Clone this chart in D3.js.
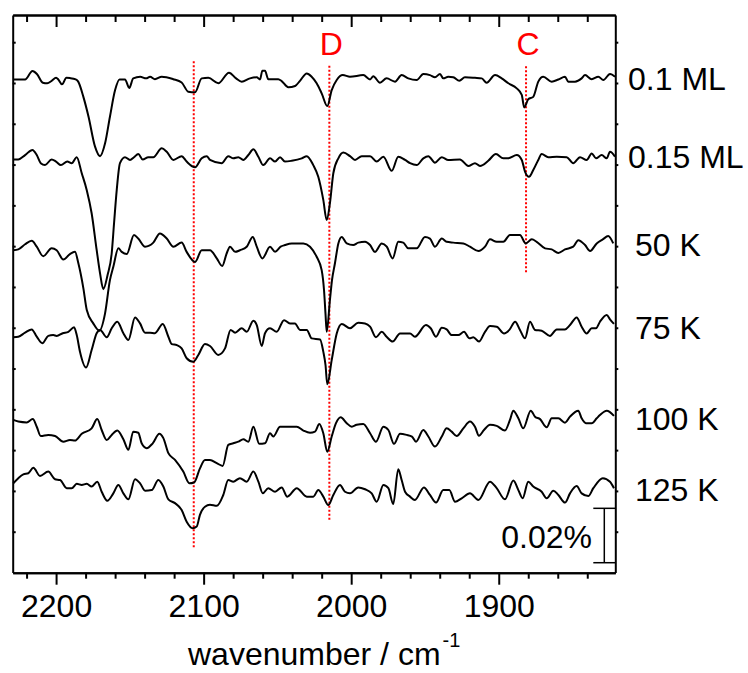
<!DOCTYPE html>
<html>
<head>
<meta charset="utf-8">
<script src="https://cdn.jsdelivr.net/npm/d3@7"></script>
<style>
  body { margin: 0; background: #fff; }
  svg { display: block; font-family: "Liberation Sans", Arial, sans-serif; }
</style>
</head>
<body>
<div id="chart"></div>
<script>
// spectra: [wavenumber (cm-1), signal relative to the trace baseline (units of 0.01 %)]
var spec01ML = [[2229,-0.04],[2221,-0.04],[2216,0.27],[2213,0.16],[2209,-0.16],[2206,-0.18],[2203,-0.09],[2200,0.02],[2198.5,-0.04],[2196,-0.22],[2193,0.02],[2190.6,0.01],[2186.7,-0.04],[2185,-0.12],[2181.5,-0.68],[2178,-1.41],[2173.6,-2.51],[2170.2,-2.86],[2166.8,-2.39],[2163.5,-1.41],[2160,-0.43],[2157,-0.04],[2153.3,-0.04],[2150.4,-0.35],[2147.7,0],[2143,0.06],[2139,0],[2136.3,0.06],[2133,-0.03],[2128.4,0.06],[2120.6,-0.03],[2114.9,-0.15],[2110.4,-0.49],[2105.8,-0.51],[2101.3,0],[2096.8,0.02],[2090.1,-0.18],[2082.8,0.21],[2078,0],[2074.2,-0.12],[2068.6,0],[2064,0.04],[2061.8,-0.04],[2060.2,0.28],[2058.4,0.28],[2056.2,-0.03],[2049.4,-0.03],[2047.1,-0.1],[2042.6,-0.33],[2038,-0.28],[2034.7,-0.09],[2030.1,0.18],[2026.8,0.06],[2023.4,-0.18],[2020,-0.55],[2016.2,-1.02],[2013.2,-0.43],[2009.8,-0.06],[2005.7,0.12],[2000.8,0.06],[1991.8,0.12],[1987.2,-0.04],[1985,0.08],[1980.5,-0.16],[1976,0],[1970.3,-0.12],[1965.8,0.12],[1961.3,0],[1955.6,-0.06],[1951.1,0.16],[1946.6,0.12],[1943.2,0.04],[1939.8,0.16],[1937.6,0],[1934.2,0.06],[1930.8,0.04],[1926.7,-0.09],[1922.9,0.04],[1916.1,0.02],[1911.5,0],[1908.2,-0.16],[1902.5,0.12],[1898,0],[1893.5,-0.18],[1887.8,-0.37],[1884.4,-0.61],[1882.7,-1.07],[1880,-0.77],[1876.6,-0.68],[1873.2,-0.12],[1869.8,0.06],[1864.1,-0.12],[1859.6,-0.04],[1855.1,0.06],[1852.9,-0.12],[1848.3,-0.12],[1843.8,0],[1841.5,0.12],[1837,-0.03],[1832.5,0.06],[1829.1,-0.06],[1824.6,0.16],[1821.2,0.06]];

var spec015ML = [[2229,-0.04],[2225.6,-0.04],[2221,0.12],[2216,0.31],[2213.1,0.12],[2210.4,-0.18],[2207.5,-0.25],[2203,-0.04],[2200,-0.12],[2196.7,-0.25],[2192.4,-0.12],[2189.4,-0.18],[2186,0.04],[2182.6,-0.55],[2179.2,-1.17],[2175.9,-2.02],[2172.5,-3.37],[2170.2,-4.23],[2168,-4.81],[2165.1,-4.29],[2162.3,-3.49],[2160.7,-2.38],[2158.9,-1.17],[2156.7,-0.18],[2153.3,0.04],[2149.9,-0.06],[2147.2,0.04],[2144.3,0.16],[2141.3,-0.04],[2137.5,0.04],[2134.1,0.04],[2128.4,0.37],[2125,0.24],[2120.5,-0.06],[2114.9,0.08],[2111.5,-0.12],[2105.8,-0.33],[2101.3,0],[2097.9,0.08],[2095.7,-0.06],[2087.8,-0.18],[2083.3,0.08],[2079.9,0],[2076.5,0.04],[2073.1,-0.06],[2069.7,0.12],[2066.3,0.33],[2062.9,0.06],[2059.6,-0.25],[2055,0],[2051.6,-0.12],[2048.2,0.04],[2044.9,-0.12],[2040.3,-0.09],[2033.5,0],[2030.1,0.08],[2025.7,-0.25],[2022.3,-0.68],[2018.9,-1.53],[2016.6,-2.27],[2014.4,-1.65],[2012.1,-0.55],[2008.7,0],[2005.3,0.21],[2000.8,0.08],[1997.4,-0.06],[1992.9,0.08],[1987.2,0.08],[1982.7,-0.12],[1978.2,0.06],[1972.5,-0.46],[1968.1,0.06],[1963.5,-0.06],[1960.1,-0.18],[1955.6,-0.25],[1951.1,0],[1947.7,0.08],[1943.2,-0.16],[1938.6,0.04],[1934.2,-0.06],[1926.3,-0.04],[1920.6,-0.28],[1916.1,-0.18],[1912.7,-0.28],[1907.1,-0.09],[1901.9,0.16],[1896.9,0],[1893.5,0],[1887.8,0.12],[1884.4,-0.06],[1882.2,-0.49],[1879.5,-0.68],[1876.6,-0.43],[1873.2,-0.06],[1870.9,0.16],[1866.4,0.04],[1860.7,0.06],[1853.9,0.04],[1849.5,-0.18],[1844.9,0.04],[1840.4,-0.06],[1837,0.18],[1834.1,0],[1830.2,0.12],[1826.8,0],[1824.6,0.24],[1821.2,0.06]];

var spec50K = [[2229,-0.03],[2225.6,0],[2221,0.19],[2216.5,0.32],[2213.1,0.10],[2208.7,-0.25],[2203,0.04],[2199.6,-0.03],[2195.1,-0.37],[2190.6,-0.17],[2187.2,-0.09],[2184.9,-0.51],[2181.5,-1.43],[2179.2,-2.23],[2174.8,-2.72],[2170.7,-2.99],[2166.8,-2.35],[2163.5,-1.13],[2161.2,-0.64],[2157.8,0.04],[2155.5,-0.09],[2152.1,-0.17],[2147.2,0.53],[2144.3,0.40],[2139.7,0.10],[2134.1,0.25],[2129.6,0.59],[2125,0.40],[2120.5,0.10],[2114.9,0.25],[2111.5,-0.09],[2105.8,-0.46],[2101.3,-0.03],[2095.7,-0.03],[2091.1,-0.33],[2087.4,-0.61],[2084.4,-0.15],[2082.1,0.10],[2078.7,-0.09],[2075.4,-0.03],[2070.8,0.10],[2066.7,0.46],[2064,0.10],[2060.2,-0.33],[2055,0.10],[2051.6,-0.09],[2047.8,0.10],[2044.9,0.16],[2040.3,0.22],[2032.4,0.22],[2027.9,0.10],[2023.4,-0.27],[2020,-0.76],[2018.4,-1.50],[2017.4,-2.37],[2016.6,-3.03],[2014.4,-1.86],[2013,-1.13],[2011,-0.51],[2008.7,0.22],[2006.4,0.46],[2003,0.22],[1998.6,0.16],[1995.2,0.25],[1990.6,0.28],[1987.2,0.16],[1983.9,-0.09],[1979.3,0.22],[1975.9,0.10],[1971.9,-0.33],[1968.1,0.28],[1964.7,0.25],[1961.3,0.04],[1955.6,0.04],[1950,0.46],[1946.6,0.40],[1943.2,0.10],[1938.6,0.40],[1935.3,0.28],[1930.8,0.25],[1924,0.22],[1919.5,0.10],[1913.8,-0.06],[1909.3,0.10],[1905.9,0.37],[1901.4,0.28],[1896.9,0.28],[1892.4,0.53],[1885.6,0.53],[1881.7,0.22],[1877.6,0.37],[1874.3,0.28],[1868.6,0.04],[1864.1,0],[1859.6,-0.13],[1855.1,0],[1849.5,0.10],[1846.1,0.34],[1841.5,0.16],[1838.1,-0.06],[1833.6,0.22],[1829.5,0.37],[1825.8,0.49],[1822.4,0.22]];

var spec75K = [[2229,-0.02],[2225.6,0],[2221,0.15],[2216.5,0.27],[2213.1,0],[2209.3,-0.24],[2205.3,0.03],[2201.9,0.06],[2199.6,0.03],[2195.5,0.13],[2191.7,0.18],[2187.8,0.35],[2186,0.06],[2183.8,-0.55],[2179.7,-1.13],[2175.9,-0.49],[2172.5,0.13],[2170.2,0.25],[2165.7,-0.02],[2162.3,0.31],[2158.5,0.55],[2154.4,0.13],[2151,-0.12],[2146.5,0.71],[2143.1,0.49],[2139.7,0.15],[2136.3,0.15],[2133,0.13],[2127.7,0.47],[2123.9,0],[2121.6,-0.27],[2118.2,-0.31],[2114.9,-0.43],[2111.5,-0.79],[2107,-0.92],[2103.6,-0.67],[2099.1,-0.27],[2095.7,-0.34],[2090.1,-0.67],[2085.5,-0.43],[2081.7,0.25],[2078.7,0.15],[2074.2,0.31],[2070.8,0.18],[2066.3,0.59],[2064,0.43],[2060.6,-0.34],[2058.4,0.13],[2055,0.31],[2050.5,0.18],[2045.5,0.61],[2041.5,0.49],[2038.1,0.49],[2034.7,0.25],[2030.1,0.25],[2026.8,-0.06],[2021.1,-0.10],[2018.9,-0.55],[2017.4,-1.04],[2016.2,-1.75],[2013.2,-0.86],[2009.8,0.12],[2006.4,0.47],[2000.8,0.31],[1995.2,0.51],[1990.6,0.49],[1987.2,0.37],[1983.2,-0.02],[1979.3,0.18],[1976,0],[1971.9,-0.18],[1966.9,0.12],[1960.1,0.12],[1956.8,0],[1949.3,0.43],[1946.1,0.31],[1942.5,0],[1938.6,0.33],[1935.3,0.27],[1931.9,0.06],[1927.4,0.06],[1923.5,0.18],[1919.9,-0.06],[1917.2,-0.02],[1913.4,-0.18],[1909.3,0.18],[1905.9,0.39],[1901.4,0.37],[1896.4,0.12],[1892.8,0.25],[1888.9,0.55],[1885.6,0.25],[1882.2,-0.06],[1878.8,0.55],[1875.4,0.25],[1870.9,0.22],[1865.3,0.03],[1860.7,0.27],[1855.1,0.27],[1851.7,0.43],[1847.2,0.71],[1843.8,0.37],[1840.4,0.12],[1837,0.31],[1834.1,0.31],[1831.4,0.55],[1826.8,0.80],[1824.6,0.64],[1821.9,0.47]];

var spec100K = [[2229,0],[2225.6,-0.06],[2219.9,-0.09],[2215.8,0.03],[2213.1,-0.25],[2210.4,-0.59],[2205.3,-0.55],[2200.7,-0.59],[2195.1,-0.80],[2190.6,-0.74],[2187.2,-0.76],[2182.6,-0.51],[2175.9,-0.31],[2172.1,0.03],[2169.1,-0.37],[2165.7,-0.74],[2162.3,-0.55],[2158.5,-0.39],[2154.4,-0.71],[2151,-1.10],[2147.7,-0.43],[2144.3,-0.47],[2142,-0.86],[2138.6,-1.04],[2134.5,-0.86],[2130,-0.51],[2127.3,-0.67],[2123.9,-1.22],[2119.4,-1.47],[2113.8,-1.90],[2109.7,-2.33],[2106.5,-2.30],[2102.5,-1.78],[2099.1,-1.47],[2095.7,-1.47],[2091.1,-1.59],[2087.1,-1.69],[2083.3,-0.92],[2079.9,-0.86],[2076.5,-0.80],[2073.1,-0.71],[2069.7,-0.80],[2066.3,-0.25],[2062.3,-0.88],[2058.4,-0.86],[2055,-0.49],[2052.8,-0.61],[2048.2,-0.25],[2044.9,-0.25],[2036.9,-0.25],[2032.4,-0.39],[2027.9,-0.47],[2024.5,-0.43],[2021.6,-0.15],[2018.9,-0.49],[2016.2,-1.17],[2013.2,-0.61],[2010.3,-0.12],[2007.1,0.10],[2003,-0.12],[1999.6,-0.25],[1996.3,-0.18],[1991.8,-0.15],[1987.2,-0.49],[1983.2,-0.80],[1978.2,-0.25],[1974.8,-0.37],[1971,-0.88],[1966.9,-0.51],[1962.4,-0.55],[1958.8,-0.61],[1956.1,-0.80],[1951.1,-0.37],[1947.7,-0.61],[1943.2,-0.98],[1938.6,-0.61],[1935.3,-0.31],[1931.9,-0.43],[1928.5,-0.59],[1924,-0.31],[1919.5,-0.06],[1916.1,-0.25],[1913.4,-0.58],[1910,-0.37],[1905.9,-0.18],[1901.4,-0.22],[1895.8,-0.39],[1892.4,0],[1890.1,0.34],[1886.7,0.06],[1883.4,-0.31],[1878.3,0.34],[1875.4,0.12],[1872,0.03],[1867.5,-0.27],[1864.1,0.06],[1859.6,0.06],[1855.1,-0.10],[1851.7,0.12],[1846.1,0.34],[1843.8,0.06],[1840.9,-0.12],[1837,-0.12],[1833.6,0.06],[1831.4,0.18],[1826.8,0.34],[1821.9,0.15]];

var spec125K = [[2229,-0.06],[2225.6,0.13],[2222.2,0.27],[2218.8,0.31],[2215.4,0.51],[2210.9,0.21],[2205.3,0.37],[2200.7,0.09],[2197.3,0.06],[2192.8,-0.24],[2189.4,-0.24],[2186,-0.08],[2182.6,-0.12],[2179.2,-0.08],[2175.9,-0.18],[2172.1,0],[2169.1,-0.37],[2165.3,-0.70],[2161.2,-0.43],[2157.8,-0.12],[2154.4,-0.43],[2151,-0.65],[2146.5,0.09],[2143.1,-0.06],[2139.7,-0.33],[2135.2,-0.31],[2130.7,0.06],[2127.3,-0.18],[2123.9,-0.65],[2119.4,-0.79],[2114.9,-1.04],[2111.5,-1.47],[2107.4,-1.71],[2104.7,-1.65],[2102.5,-1.22],[2099.1,-0.92],[2095.7,-0.85],[2091.1,-0.89],[2086.7,-0.49],[2083.3,0.06],[2079.9,0],[2075.4,0.13],[2070.8,0],[2066.3,0.37],[2062.9,0],[2059.9,-0.43],[2056.2,-0.24],[2051.6,-0.37],[2047.1,-0.21],[2043.3,-0.55],[2036.9,-0.24],[2030.1,-0.55],[2025.7,-0.55],[2022.3,-0.31],[2018.9,-0.55],[2015.5,-0.86],[2012.1,-0.49],[2007.6,-0.12],[2004.2,-0.37],[2000.8,-0.43],[1995.2,-0.21],[1990.6,-0.28],[1986.1,-0.43],[1982.7,-0.74],[1978.2,-0.12],[1974.8,-0.24],[1971.5,-0.82],[1968.1,0.46],[1965.8,0.06],[1963.5,-0.37],[1960.1,-0.55],[1956.8,-0.67],[1950.7,-0.21],[1946.6,-0.49],[1942.5,-0.77],[1937.6,-0.31],[1933.5,-0.31],[1929.6,-0.74],[1925.1,-0.61],[1919.5,-0.43],[1913.8,-0.67],[1905.9,0],[1901.4,-0.24],[1895.8,-0.65],[1890.1,0.04],[1886.7,-0.31],[1883.8,-0.61],[1880,0],[1876.6,-0.18],[1870.9,-0.37],[1867.5,-0.61],[1863,-0.33],[1859.6,-0.49],[1855.1,-0.77],[1851.7,-0.43],[1847.2,-0.16],[1843.8,-0.43],[1839.3,-0.53],[1835.9,-0.24],[1829.5,0.13],[1824.6,0],[1821.9,-0.24]];

var traceData = [spec01ML, spec015ML, spec50K, spec75K, spec100K, spec125K];
var traceLabels = ["0.1 ML", "0.15 ML", "50 K", "75 K", "100 K", "125 K"];
var traceOffsets = [18.17, 15.23, 11.88, 8.67, 5.61, 3.34];   // baseline of each trace, 0.01 % units

// dotted marker lines (wavenumber, top and bottom in 0.01 % units) and their letters
var markerWn = [2106.7, 2014.8, 1881.5];
var markerTop = [18.8, 18.63, 18.62];
var markerBottom = [0.86, 1.87, 11.0];
var markerNames = ["", "D", "C"];

var xMajorTicks = [2200, 2100, 2000, 1900];
var xMinorTicks = [2220, 2180, 2160, 2140, 2120, 2080, 2060, 2040, 2020, 1980, 1960, 1940, 1920, 1880, 1860, 1840];
var yTickStep = 1.5;
var scaleBarSize = 2;          // 0.02 %
var scaleBarLabel = "0.02%";

// set the dimensions (plot box in page pixels)
var width = 748, height = 673;
var plotLeft = 12.7, plotRight = 615.3, plotTop = 15, plotBottom = 572.7;

var svg = d3.select("#chart")
  .append("svg")
    .attr("width", width)
    .attr("height", height);

var x = d3.scaleLinear()
  .domain([2229.4, 1821])
  .range([plotLeft, plotRight]);

var y = d3.scaleLinear()
  .domain([0, 20.5])
  .range([572.5, plotTop]);

var yTicks = d3.range(yTickStep, 20.5, yTickStep);

function styleAxis(g) {
  g.select(".domain").attr("stroke", "#000").attr("stroke-width", 2);
  g.selectAll(".tick line").attr("stroke", "#000").attr("stroke-width", 2);
  g.selectAll("text").attr("font-size", 32).attr("font-family", "Liberation Sans, Arial, sans-serif").attr("fill", "#000");
}

// bottom axis: major ticks with labels, minor ticks without
svg.append("g")
  .attr("transform", "translate(0," + plotBottom + ")")
  .call(d3.axisBottom(x).tickValues(xMinorTicks).tickSize(6).tickSizeOuter(0).tickFormat(""))
  .call(styleAxis);
svg.append("g")
  .attr("transform", "translate(0," + plotBottom + ")")
  .call(d3.axisBottom(x).tickValues(xMajorTicks).tickSize(12).tickSizeOuter(0).tickPadding(10).tickFormat(d3.format("d")))
  .call(styleAxis);

// top axis, ticks point inward
svg.append("g")
  .attr("transform", "translate(0," + plotTop + ")")
  .call(d3.axisTop(x).tickValues(xMinorTicks).tickSize(-7).tickSizeOuter(0).tickFormat(""))
  .call(styleAxis);
svg.append("g")
  .attr("transform", "translate(0," + plotTop + ")")
  .call(d3.axisTop(x).tickValues(xMajorTicks).tickSize(-12).tickSizeOuter(0).tickFormat(""))
  .call(styleAxis);

// left and right axes, unlabelled
svg.append("g")
  .attr("transform", "translate(" + plotLeft + ",0)")
  .call(d3.axisLeft(y).tickValues(yTicks).tickSize(-3).tickSizeOuter(0).tickFormat(""))
  .call(styleAxis);
svg.append("g")
  .attr("transform", "translate(" + plotRight + ",0)")
  .call(d3.axisRight(y).tickValues(yTicks).tickSize(3).tickSizeOuter(0).tickFormat(""))
  .call(styleAxis);

// x axis title with superscript
var title = svg.append("text")
  .attr("x", 188)
  .attr("y", 665)
  .attr("font-size", 32)
  .text("wavenumber / cm");
title.append("tspan")
  .attr("font-size", 20)
  .attr("dx", 2)
  .attr("dy", -18)
  .text("-1");

// dotted red marker lines
svg.append("g")
  .selectAll("line")
  .data(markerWn)
  .enter()
  .append("line")
    .attr("x1", function(d) { return x(d); })
    .attr("x2", function(d) { return x(d); })
    .attr("y1", function(d, i) { return y(markerTop[i]); })
    .attr("y2", function(d, i) { return y(markerBottom[i]); })
    .attr("stroke", "#ff0000")
    .attr("stroke-width", 2)
    .attr("stroke-dasharray", "2,2");

svg.append("g")
  .selectAll("text")
  .data(markerWn)
  .enter()
  .append("text")
    .attr("x", function(d) { return x(d) + 2; })
    .attr("y", 55)
    .attr("text-anchor", "middle")
    .attr("font-size", 32)
    .attr("fill", "#ff0000")
    .text(function(d, i) { return markerNames[i]; });

// spectra
var line = d3.line()
  .x(function(d) { return x(d[0]); })
  .y(function(d) { return y(d[1]); })
  .curve(d3.curveMonotoneX);

svg.append("g")
  .selectAll("path")
  .data(traceData)
  .enter()
  .append("path")
    .attr("d", function(d, i) {
      var off = traceOffsets[i];
      return line(d.map(function(p) { return [p[0], p[1] + off]; }));
    })
    .attr("fill", "none")
    .attr("stroke", "#000")
    .attr("stroke-width", 2)
    .attr("stroke-linejoin", "round");

// trace labels on the right
var labelX = [628, 628, 635, 635, 635, 635];
var labelDy = [12, 10, 7, 2, 10, 19];
svg.append("g")
  .selectAll("text")
  .data(traceLabels)
  .enter()
  .append("text")
    .attr("x", function(d, i) { return labelX[i]; })
    .attr("y", function(d, i) { return y(traceOffsets[i]) + labelDy[i]; })
    .attr("font-size", 32)
    .text(function(d) { return d; });

// scale bar
var barX = plotRight - 11;
var barBottom = 0.36;
var bar = svg.append("g").attr("stroke", "#000").attr("stroke-width", 1.5);
bar.append("line")
  .attr("x1", barX).attr("x2", barX)
  .attr("y1", y(barBottom)).attr("y2", y(barBottom + scaleBarSize));
bar.append("line")
  .attr("x1", barX - 11).attr("x2", plotRight)
  .attr("y1", y(barBottom)).attr("y2", y(barBottom));
bar.append("line")
  .attr("x1", barX - 11).attr("x2", plotRight)
  .attr("y1", y(barBottom + scaleBarSize)).attr("y2", y(barBottom + scaleBarSize));

svg.append("text")
  .attr("x", 592)
  .attr("y", 548)
  .attr("text-anchor", "end")
  .attr("font-size", 32)
  .text(scaleBarLabel);
</script>
</body>
</html>
